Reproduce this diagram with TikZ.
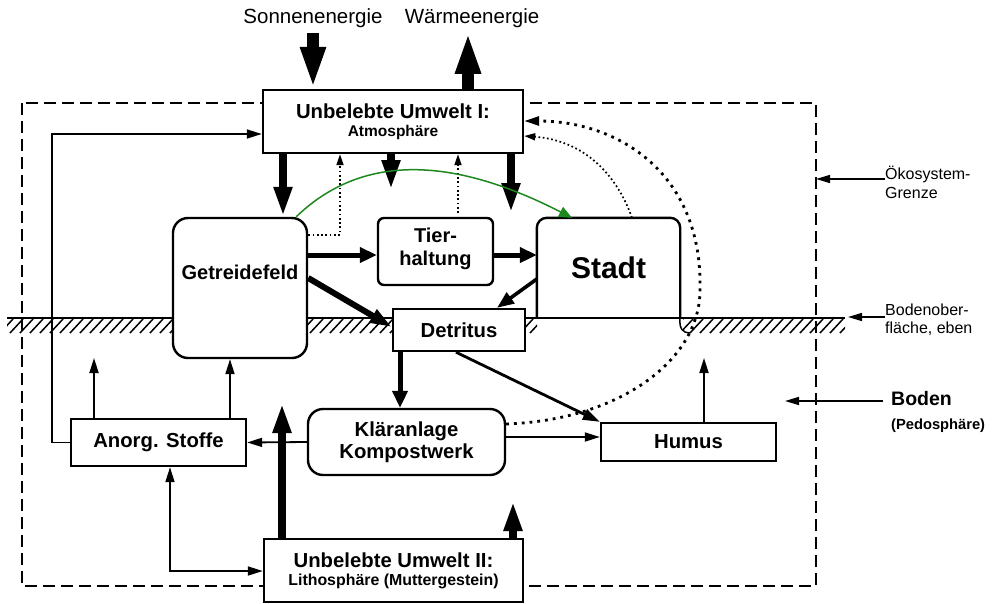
\documentclass[tikz,border=0pt]{standalone}
\usepackage{fontspec}
\setmainfont{Liberation Sans}
\usetikzlibrary{arrows.meta,calc}
\begin{document}
\begin{tikzpicture}[x=1pt,y=-1pt,
  box/.style={draw, line width=2.4pt, fill=white, inner sep=0pt, align=center, font=\bfseries\fontsize{20.3}{22}\selectfont},
  rbox/.style={box, rounded corners=#1},
  thinarr/.style={line width=1.8pt, -{Triangle[length=15pt,width=9pt]}},
  labarr/.style={line width=1.5pt, -{Triangle[length=14pt,width=8pt]}},
  medarr/.style={line width=5pt, -{Triangle[length=17pt,width=15pt]}},
  slantarr/.style={line width=6pt, -{Triangle[length=22pt,width=14pt]}},
  arrfour/.style={line width=3.6pt, -{Triangle[length=17pt,width=13pt]}},
  arrthree/.style={line width=2.8pt, -{Triangle[length=17pt,width=11pt]}},
  fatarr/.style={line width=8pt, -{Triangle[length=30pt,width=17pt]}},
  hugearr/.style={line width=11.5pt, -{Triangle[length=42pt,width=23pt]}},
  smalldot/.style={line width=1.7pt, dash pattern=on 1.7pt off 2.6pt},
  bigdot/.style={line width=2.8pt, dash pattern=on 2.8pt off 5pt},
  dottip/.style={-{Triangle[length=11pt,width=7pt]}},
  dottipbig/.style={-{Triangle[length=15pt,width=9pt]}},
  hatchline/.style={line width=1.5pt},
  greenarr/.style={draw={rgb,255:red,30;green,135;blue,30}, line width=1.5pt, -{Triangle[length=13pt,width=11pt]}},
  lab/.style={inner sep=1pt, font=\fontsize{20.5}{22}\selectfont},
]
\useasboundingbox (0,0) rectangle (993,603);
\fill[white] (0,0) rectangle (993,603);

% ecosystem boundary
\draw[line width=2.4pt, dash pattern=on 12pt off 6pt] (22,103) rectangle (816,586);

% ground surface and hatching
\coordinate (g1) at (7,318);
\coordinate (g2) at (845,318);
\draw[line width=2pt] (g1) -- (g2);
\begin{scope}
  \clip (7,317) rectangle (173,334) (307,317) rectangle (393,334)
        (525,317) rectangle (537,334) (683,317) rectangle (845,334);
  \foreach \x in {-10,0,...,850} \draw[hatchline] (\x,333) -- (\x+13,319);
\end{scope}
\draw[hatchline] (680,318) .. controls (679,329) and (683,333) .. (690,333);

% labels on top
\node[lab] (sonne) at (313,18) {Sonnenenergie};
\node[lab] (waerme) at (472,18) {Wärmeenergie};

% boxes
\node[box, minimum width=260pt, minimum height=63pt] (atmo) at (393,121.5)
  {Unbelebte Umwelt I:\\[-4pt]{\fontsize{15.5}{17}\selectfont Atmosphäre}};
\node[rbox=15pt, minimum width=134pt, minimum height=140pt,
  label={[font=\bfseries\fontsize{20}{22}\selectfont, yshift=16pt]center:Getreidefeld}] (getr) at (240,288) {};
\node[rbox=6pt, minimum width=115pt, minimum height=67pt,
  font=\bfseries\fontsize{20}{23}\selectfont, text depth=10pt] (tier) at (435.5,251.5) {Tier-\\haltung};
\node[fill=white, inner sep=0pt, minimum width=143pt, minimum height=100pt,
  font=\bfseries\fontsize{30}{32}\selectfont] (stadt) at (608.5,268) {Stadt};
\draw[line width=2.4pt, rounded corners=10pt] (stadt.south west) -- (stadt.north west) -- (stadt.north east) -- (stadt.south east);
\draw[line width=2pt] (stadt.south west) -- (stadt.south east);
\node[box, minimum width=132pt, minimum height=42pt] (detr) at (459,330) {Detritus};
\node[box, minimum width=175pt, minimum height=47pt] (anorg) at (158.5,442.5) {Anorg. Stoffe};
\node[rbox=15pt, minimum width=197pt, minimum height=66pt] (klaer) at (406.5,442) {Kläranlage\\Kompostwerk};
\node[box, minimum width=175pt, minimum height=38pt] (humus) at (688.5,442) {Humus};
\node[box, minimum width=259pt, minimum height=63pt] (litho) at (393.5,570.5)
  {Unbelebte Umwelt II:\\[-4pt]{\fontsize{15.9}{17}\selectfont Lithosphäre (Muttergestein)}};

% right side labels
\node[anchor=west, align=left, inner sep=0pt, font=\fontsize{16}{19}\selectfont] (oko) at (885,182.5) {Ökosystem-\\Grenze};
\coordinate (okoT) at (816,179);
\draw[labarr] (oko.west |- 0,179) -- (okoT);
\node[anchor=west, align=left, inner sep=0pt, font=\fontsize{16}{18}\selectfont] (bodob) at (885,320) {Bodenober-\\fläche, eben};
\coordinate (bodobT) at (848,317);
\draw[labarr] (bodob.west |- 0,317) -- (bodobT);
\node[anchor=west, align=left, inner sep=0pt, font=\bfseries\fontsize{19.5}{24}\selectfont] (boden) at (891,412)
  {Boden\\{\fontsize{14.7}{24}\selectfont (Pedosphäre)}};
\coordinate (bodenT) at (785,401);
\draw[labarr] ($(boden.west |- 0,401)+(-8,0)$) -- (bodenT);

% energy arrows
\draw[hugearr, shorten <=4pt] (sonne.south) -- (atmo.north -| sonne.south);
\coordinate (w1) at (468,0);
\draw[hugearr, shorten >=3pt] (atmo.north -| w1) -- (waerme.south -| w1);

% atmosphere down
\coordinate (a1) at (283,0);
\draw[fatarr] (atmo.south -| a1) -- (getr.north -| a1);
\coordinate (a2) at (391,190);
\draw[fatarr] (atmo.south -| a2) -- (a2);
\coordinate (a3) at (511,213);
\draw[fatarr] (atmo.south -| a3) -- (a3);

% dotted up to atmosphere
\coordinate (d1) at (340,0);
\draw[smalldot, dottip] (getr.east |- 0,235) -| (atmo.south -| d1);
\coordinate (d2) at (458,213);
\draw[smalldot, dottip] (d2) -- (atmo.south -| d2);

% green curve
\coordinate (gr) at (572,0);
\draw[greenarr] ($(getr.north east)+(-12,0)$) .. controls (355,160) and (440,150) .. (stadt.north -| gr);

% flows between compartments
\draw[medarr] (getr.east |- 0,255) -- (tier.west |- 0,255);
\draw[medarr] (tier.east |- 0,255) -- (stadt.west |- 0,255);
\draw[slantarr] (getr.east |- 0,278) -- (detr.west |- 0,327);
\coordinate (sd) at (497,0);
\draw[arrfour] (stadt.west |- 0,279) -- (detr.north -| sd);
\coordinate (dk) at (400,0);
\draw[medarr] (detr.south -| dk) -- (klaer.north -| dk);
\coordinate (dh) at (456,0);
\draw[arrthree] (detr.south -| dh) -- (humus.north west);
\draw[thinarr] (klaer.east |- 0,437) -- (humus.west |- 0,437);
\coordinate (hu) at (704,358);
\draw[thinarr] (humus.north -| hu) -- (hu);
\draw[thinarr] (klaer.west) -- (anorg.east);
\coordinate (lp) at (52,134);
\draw[thinarr] (anorg.west) -| (lp) -- (atmo.west |- lp);
\coordinate (u1) at (94,358);
\draw[thinarr] (anorg.north -| u1) -- (u1);
\coordinate (u2) at (230,0);
\draw[thinarr] (anorg.north -| u2) -- (getr.south -| u2);
\coordinate (l1) at (282,403);
\draw[fatarr] (litho.north -| l1) -- (l1);
\coordinate (l2) at (513,501);
\draw[fatarr] (litho.north -| l2) -- (l2);
\coordinate (al) at (170,571);
\draw[line width=1.8pt, {Triangle[length=15pt,width=9pt]}-{Triangle[length=15pt,width=9pt]}] (anorg.south -| al) |- (litho.west |- al);

% dotted return curves
\draw[bigdot, dottipbig] (klaer.east |- 0,424) .. controls (620,420) and (700,360) .. (700,290)
   .. controls (703,175) and (620,121) .. (atmo.east |- 0,121);
\coordinate (sc) at (632,0);
\draw[smalldot, dottip] (stadt.north -| sc) .. controls (615,170) and (580,140) .. (atmo.east |- 0,136);
\end{tikzpicture}
\end{document}
